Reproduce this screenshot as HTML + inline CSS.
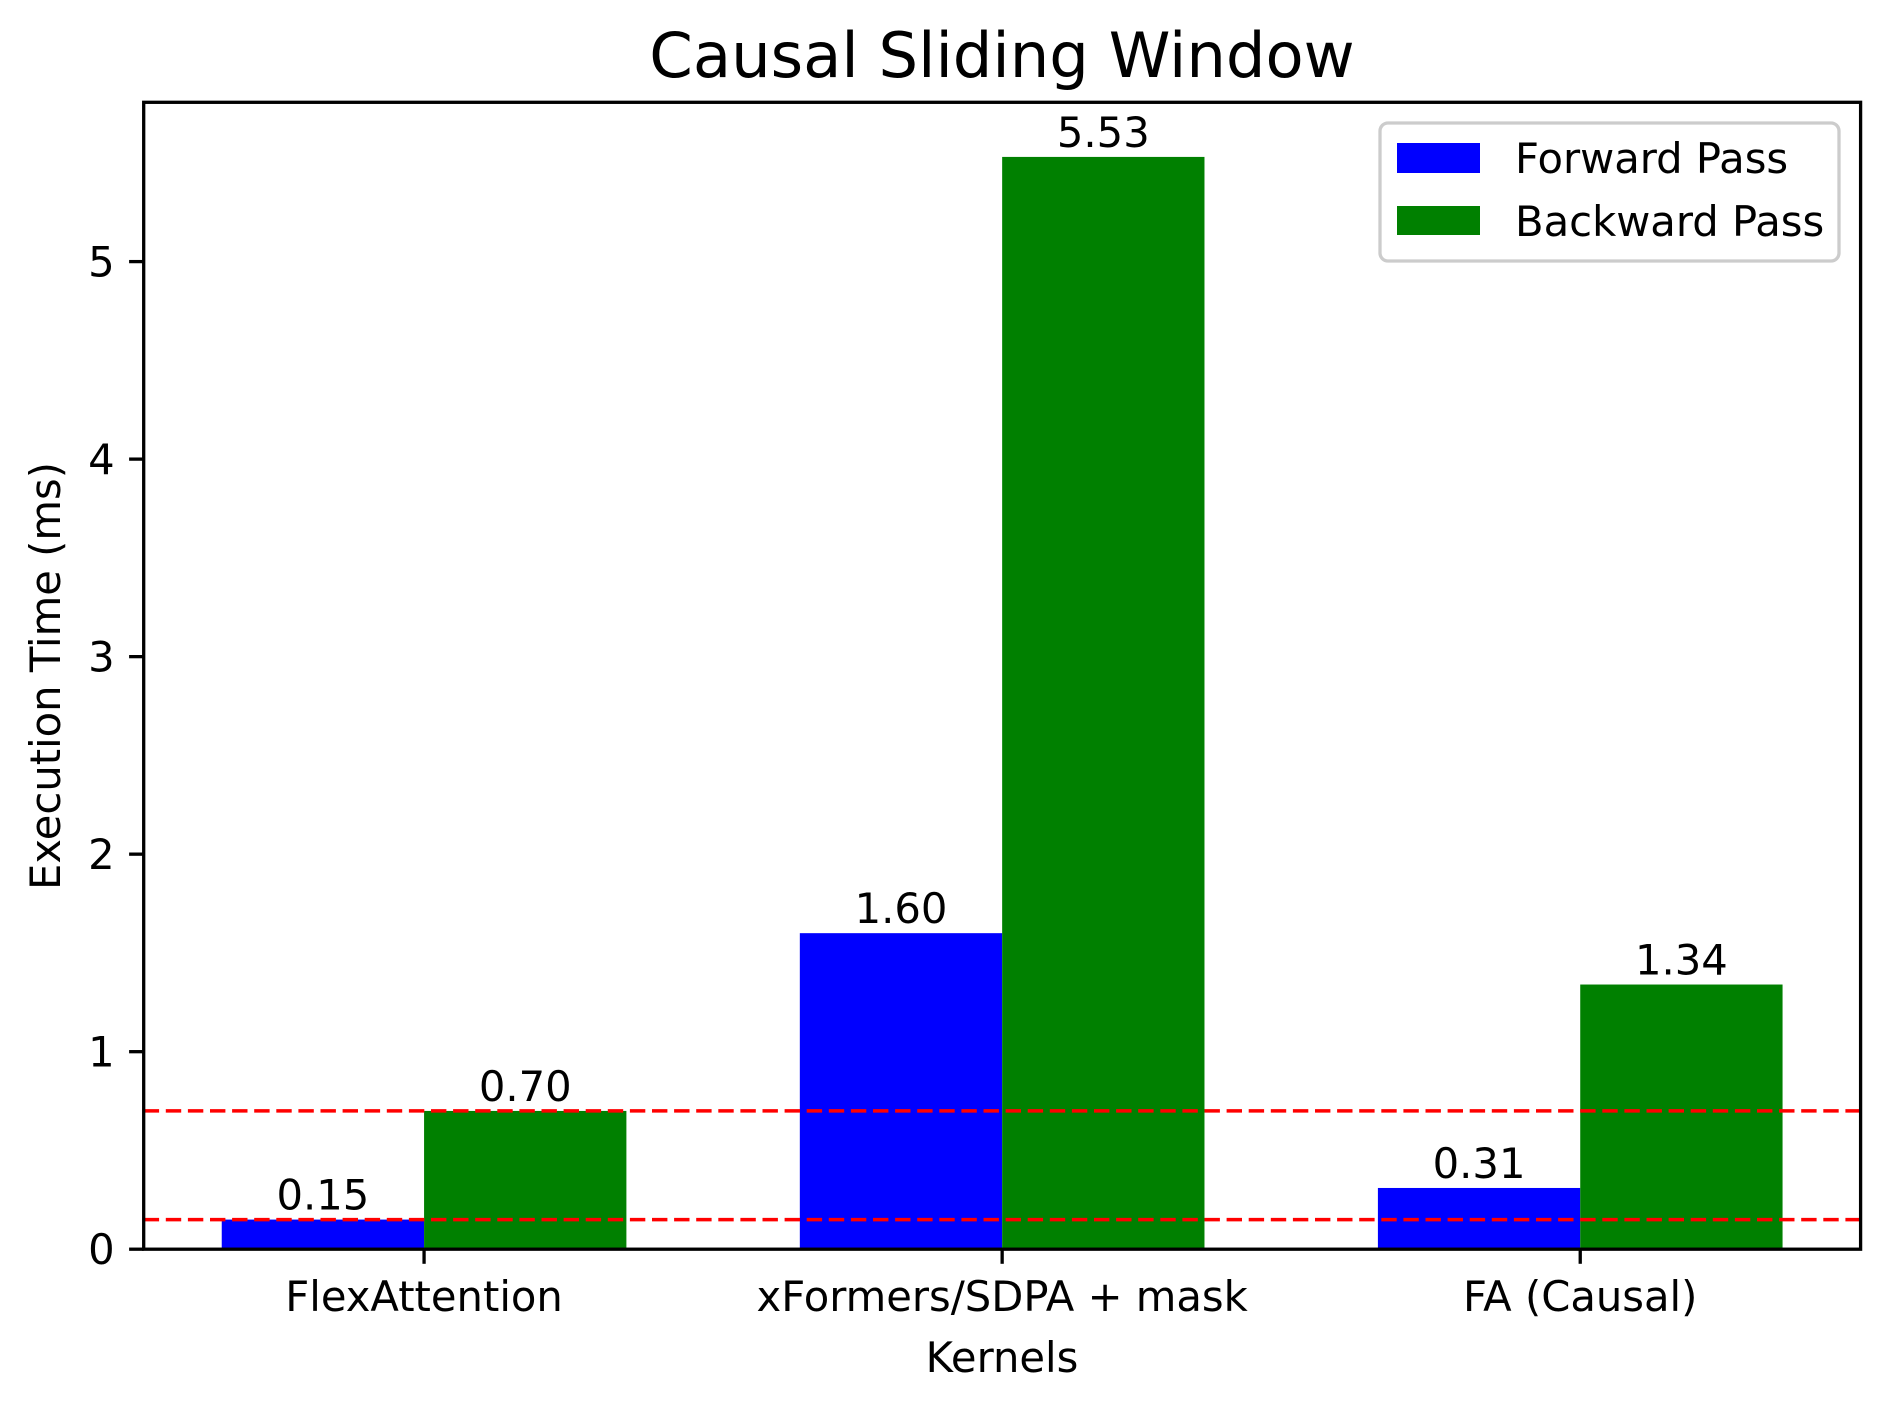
<!DOCTYPE html>
<html><head><meta charset="utf-8"><style>
html,body{margin:0;padding:0;background:#fff;}
svg{display:block;font-family:"DejaVu Sans","Liberation Sans",sans-serif;}
</style></head><body>
<svg id="chart" width="1890" height="1409" viewBox="0 0 1890 1409" xmlns="http://www.w3.org/2000/svg">
<rect x="0" y="0" width="1890" height="1409" fill="#fff"/>
<text x="1002" y="77" font-size="62.4" text-anchor="middle" fill="#000">Causal Sliding Window</text>
<g id="plot"></g>
<rect x="143.7" y="102.3" width="1716.9" height="1146.9" fill="none" stroke="#000" stroke-width="3.3"/>
<text x="1002" y="1372" font-size="41.7" text-anchor="middle" fill="#000">Kernels</text>
<text transform="translate(60,676) rotate(-90)" x="0" y="0" font-size="41.7" text-anchor="middle" fill="#000">Execution Time (ms)</text>
<g>
<rect x="1380" y="123" width="459" height="138" rx="8" fill="#fff" fill-opacity="0.8" stroke="#cccccc" stroke-width="3.3"/>
<rect x="1397" y="143" width="83" height="30" fill="#0000ff"/>
<text x="1515" y="173" font-size="41.7" fill="#000">Forward Pass</text>
<rect x="1397" y="206" width="83" height="29" fill="#008000"/>
<text x="1515" y="236" font-size="41.7" fill="#000">Backward Pass</text>
</g>
</svg>
<script>
const categories = ["FlexAttention", "xFormers/SDPA + mask", "FA (Causal)"];
const forwardValues = [0.15, 1.60, 0.31];
const backwardValues = [0.70, 5.53, 1.34];
const refLines = [0.70, 0.15];
const yTicks = [0, 1, 2, 3, 4, 5];

const NS = "http://www.w3.org/2000/svg";
const plot = document.getElementById("plot");
const L = 143.7, R = 1860.6, T = 102.3, B = 1249.2;
const xMin = -0.485, xMax = 2.485;
const yMax = Math.max(...forwardValues, ...backwardValues) * 1.05;
const barW = 0.35;
function xs(v){ return L + (v - xMin) / (xMax - xMin) * (R - L); }
function ys(v){ return B - v / yMax * (B - T); }
function mk(tag, attrs){ const e = document.createElementNS(NS, tag); for (const k in attrs) e.setAttribute(k, attrs[k]); plot.appendChild(e); return e; }

function drawSeries(vals, offset, color, key){
  vals.forEach((v, i) => {
    const x0 = xs(i + offset - barW/2), x1 = xs(i + offset + barW/2);
    const r = mk("rect", {x: x0, y: ys(v), width: x1 - x0, height: B - ys(v), fill: color});
    
    
    const t = mk("text", {x: (x0 + x1)/2, y: ys(v) - 10, "font-size": 41.7, "text-anchor": "middle", fill: "#000"});
    t.textContent = v.toFixed(2);
    
    
  });
}
drawSeries(forwardValues, -barW/2, "#0000ff", "forward");
drawSeries(backwardValues, barW/2, "#008000", "backward");

refLines.forEach((v, i) => {
  const ln = mk("line", {x1: L, x2: R, y1: ys(v), y2: ys(v), stroke: "#ff0000", "stroke-width": 3.5, "stroke-dasharray": "15.4 6.7"});
  
  
});

yTicks.forEach(v => {
  const tk = mk("line", {x1: L - 14.6, x2: L, y1: ys(v), y2: ys(v), stroke: "#000", "stroke-width": 3.3});
  
  
  const t = mk("text", {x: L - 29, y: ys(v) + 15, "font-size": 41.7, "text-anchor": "end", fill: "#000"});
  t.textContent = String(v);
  
  
});

categories.forEach((c, i) => {
  const tk = mk("line", {x1: xs(i), x2: xs(i), y1: B, y2: B + 14.6, stroke: "#000", "stroke-width": 3.3});
  
  
  const t = mk("text", {x: xs(i), y: 1311, "font-size": 41.7, "text-anchor": "middle", fill: "#000"});
  t.textContent = c;
  
  
});
</script>
</body></html>
